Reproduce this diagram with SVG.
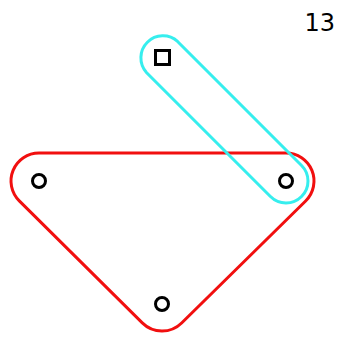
<svg xmlns="http://www.w3.org/2000/svg" width="338" height="337" viewBox="0 0 338 337">
<style>
.hull{fill:none;stroke-width:3}
.node{fill:#fff;stroke:#000;stroke-width:3}
</style>
<rect width="338" height="337" fill="#fff"/>
<g id="connectors">
<path id="hull-red" class="hull" stroke="#f10f0f" d="M39,153 L286,153 A28,28 0 0 1 305.64,200.96 L181.64,322.96 A28,28 0 0 1 142.28,322.88 L19.28,200.88 A28,28 0 0 1 39,153 Z"/>
<path id="hull-cyan" class="hull" stroke="#36eeee" d="M177.56,41.44 L301.56,165.44 A22,22 0 0 1 270.44,196.56 L146.44,72.44 A22,22 0 0 1 177.56,41.44 Z"/>
</g>
<g id="n1"><rect class="node" x="155.5" y="50.5" width="14" height="14"/></g>
<g id="n2"><circle class="node" cx="39" cy="181" r="6.5"/></g>
<g id="n3"><circle class="node" cx="286" cy="181" r="6.5"/></g>
<g id="n4"><circle class="node" cx="162" cy="304" r="6.5"/></g>
<text x="335" y="31" text-anchor="end" font-family="DejaVu Sans, sans-serif" font-size="24">13</text>
</svg>
